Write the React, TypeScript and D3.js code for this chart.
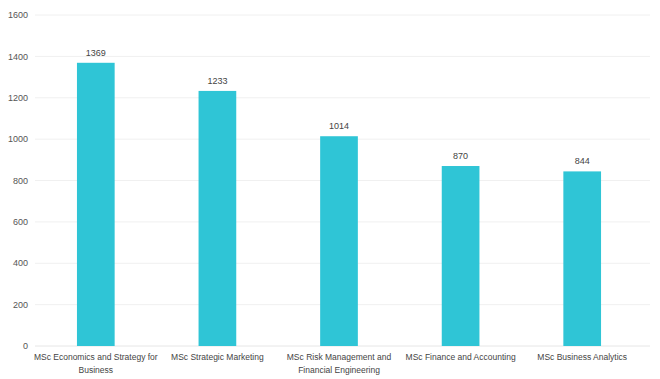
import React from "react";
import * as d3 from "d3";

const categories = [
  ["MSc Economics and Strategy for", "Business"],
  ["MSc Strategic Marketing"],
  ["MSc Risk Management and", "Financial Engineering"],
  ["MSc Finance and Accounting"],
  ["MSc Business Analytics"],
];
const values = [1369, 1233, 1014, 870, 844];
const yTicks = [0, 200, 400, 600, 800, 1000, 1200, 1400, 1600];

const W = 660, H = 379;
const left = 35, right = 643, top = 15, bottom = 346;

export default function App() {
  const x = d3.scaleBand<number>().domain(d3.range(values.length)).range([left, right]).paddingInner(0.69).paddingOuter(0.345);
  const y = d3.scaleLinear().domain([0, 1600]).range([bottom, top]);
  const font = "Helvetica, Arial, 'Liberation Sans', sans-serif";
  return (
    <svg width={W} height={H} style={{ position: "absolute", left: 0, top: 0, background: "#fff" }} fontFamily={font}>
      {yTicks.map((t) => (
        <g key={t}>
          <line x1={left} x2={650} y1={y(t)} y2={y(t)} stroke={t === 0 ? "#e6e6e6" : "#f0f0f0"} strokeWidth={1} />
          <text x={28} y={y(t)} dy="0.35em" textAnchor="end" fontSize={9} fill="#555">{t}</text>
        </g>
      ))}
      {values.map((v, i) => (
        <g key={i}>
          <rect x={x(i)} y={y(v)} width={x.bandwidth()} height={bottom - y(v)} fill="#2fc5d6" />
          <text x={(x(i) as number) + x.bandwidth() / 2} y={y(v) - 7} textAnchor="middle" fontSize={9} fill="#444">{v}</text>
        </g>
      ))}
      {categories.map((lines, i) => (
        <text key={i} x={(x(i) as number) + x.bandwidth() / 2} y={360} textAnchor="middle" fontSize={8.5} fill="#444">
          {lines.map((l, j) => (
            <tspan key={j} x={(x(i) as number) + x.bandwidth() / 2} dy={j === 0 ? 0 : 13}>{l}</tspan>
          ))}
        </text>
      ))}
    </svg>
  );
}
